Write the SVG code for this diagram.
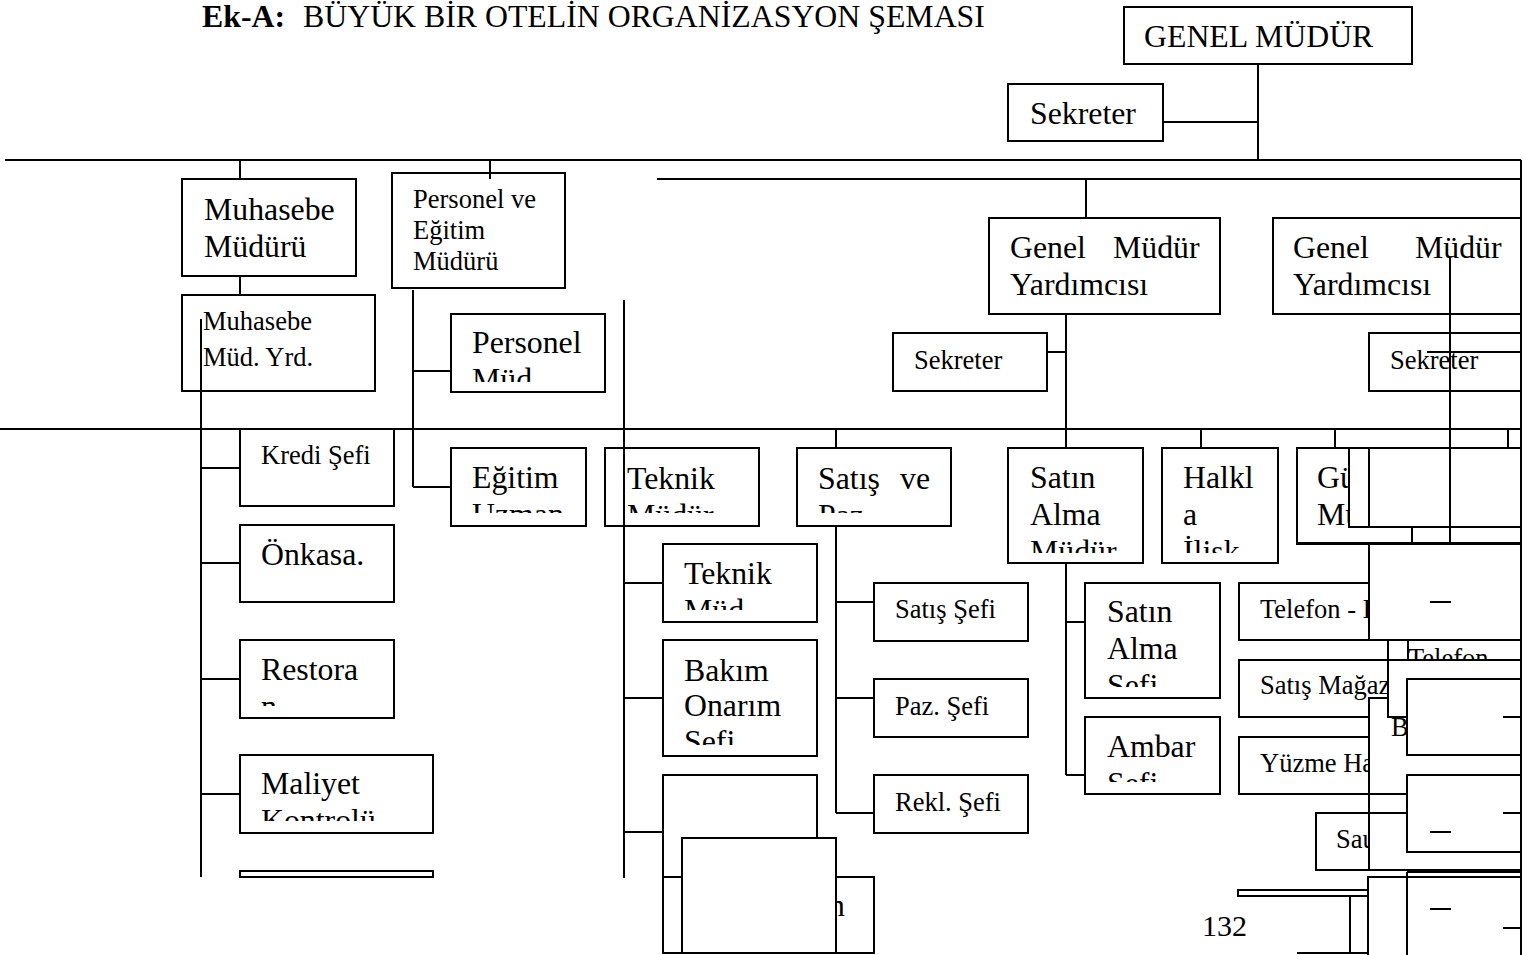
<svg xmlns="http://www.w3.org/2000/svg" width="1523" height="955" viewBox="0 0 1523 955">
<style>
.bx{fill:#fff;stroke:#000;stroke-width:2}
.ln{stroke:#000;stroke-width:2;fill:none}
.t{font-family:"Liberation Serif","Times New Roman",serif;font-size:31.8px;fill:#000}
.s{font-family:"Liberation Serif","Times New Roman",serif;font-size:26.5px;fill:#000}
</style>
<defs>
<clipPath id="cPM"><rect x="452" y="315" width="152" height="67"/></clipPath>
<clipPath id="cEU"><rect x="452" y="449" width="133" height="64"/></clipPath>
<clipPath id="cTM"><rect x="606" y="449" width="152" height="64"/></clipPath>
<clipPath id="cSP"><rect x="798" y="449" width="152" height="64"/></clipPath>
<clipPath id="cSA"><rect x="1009" y="449" width="133" height="104"/></clipPath>
<clipPath id="cHI"><rect x="1163" y="449" width="114" height="104"/></clipPath>
<clipPath id="cTMd"><rect x="664" y="545" width="152" height="65"/></clipPath>
<clipPath id="cBO"><rect x="664" y="641" width="152" height="104"/></clipPath>
<clipPath id="cRE"><rect x="241" y="641" width="152" height="65"/></clipPath>
<clipPath id="cMK"><rect x="241" y="756" width="191" height="65"/></clipPath>
<clipPath id="cSAS"><rect x="1086" y="584" width="133" height="103"/></clipPath>
<clipPath id="cAS"><rect x="1086" y="718" width="133" height="64"/></clipPath>
<clipPath id="cTel"><rect x="1390" y="641" width="130" height="18"/></clipPath>
</defs>

<g id="title">
<text x="202" y="27" class="t" font-weight="bold">Ek-A:</text>
<text x="303" y="27" class="t">BÜYÜK BİR OTELİN ORGANİZASYON ŞEMASI</text>
</g>

<g id="n-genel-mudur"><rect class="bx" x="1124" y="7" width="288" height="57"/><text class="t" x="1144" y="47">GENEL MÜDÜR</text></g>
<g id="n-sekreter"><rect class="bx" x="1008" y="84" width="155" height="57"/><text class="t" x="1030" y="124">Sekreter</text></g>
<g id="n-muhasebe-mudur"><rect class="bx" x="182" y="179" width="174" height="97"/><text class="t" x="204" y="220">Muhasebe</text><text class="t" x="204" y="257">Müdürü</text></g>
<g id="n-personel-egitim"><rect class="bx" x="392" y="173" width="173" height="115"/><text class="s" x="413" y="208">Personel ve</text><text class="s" x="413" y="239">Eğitim</text><text class="s" x="413" y="270">Müdürü</text></g>
<g id="n-muhasebe-yrd"><rect class="bx" x="182" y="295" width="193" height="96"/><text class="s" x="203" y="330">Muhasebe</text><text class="s" x="203" y="366">Müd. Yrd.</text></g>
<g id="n-personel-mud"><rect class="bx" x="451" y="314" width="154" height="78"/><g clip-path="url(#cPM)"><text class="t" x="472" y="353">Personel</text><text class="t" x="472" y="390">Müd.</text></g></g>
<g id="n-gmy1"><rect class="bx" x="989" y="218" width="231" height="96"/><text class="t" x="1010" y="258">Genel</text><text class="t" x="1113" y="258">Müdür</text><text class="t" x="1010" y="295">Yardımcısı</text></g>
<g id="n-gmy2"><rect class="bx" x="1273" y="218" width="248" height="96"/><text class="t" x="1293" y="258">Genel</text><text class="t" x="1415" y="258">Müdür</text><text class="t" x="1293" y="295">Yardımcısı</text></g>
<g id="n-sekreter1"><rect class="bx" x="893" y="333" width="154" height="58"/><text class="s" x="914" y="369">Sekreter</text></g>
<g id="n-sekreter2"><rect class="bx" x="1369" y="333" width="152" height="58"/><text class="s" x="1390" y="369">Sekreter</text><line class="ln" x1="1427" y1="352" x2="1521" y2="352"/></g>
<g id="n-kredi"><rect class="bx" x="240" y="429" width="154" height="77"/><text class="s" x="261" y="464">Kredi Şefi</text></g>
<g id="n-egitim-uzman"><rect class="bx" x="451" y="448" width="135" height="78"/><g clip-path="url(#cEU)"><text class="t" x="472" y="488">Eğitim</text><text class="t" x="472" y="525">Uzman</text></g></g>
<g id="n-teknik-mudur"><rect class="bx" x="605" y="448" width="154" height="78"/><g clip-path="url(#cTM)"><text class="t" x="627" y="489">Teknik</text><text class="t" x="627" y="526">Müdür</text></g></g>
<g id="n-satis-paz"><rect class="bx" x="797" y="448" width="154" height="78"/><g clip-path="url(#cSP)"><text class="t" x="818" y="489">Satış</text><text class="t" x="900" y="489">ve</text><text class="t" x="818" y="526">Paz.</text></g></g>
<g id="n-satin-alma-mudur"><rect class="bx" x="1008" y="448" width="135" height="115"/><g clip-path="url(#cSA)"><text class="t" x="1030" y="488">Satın</text><text class="t" x="1030" y="525">Alma</text><text class="t" x="1030" y="562">Müdür</text></g></g>
<g id="n-halkla"><rect class="bx" x="1162" y="448" width="116" height="115"/><g clip-path="url(#cHI)"><text class="t" x="1183" y="488">Halkl</text><text class="t" x="1183" y="525">a</text><text class="t" x="1183" y="562">İlişk</text></g></g>
<g id="n-gu"><rect class="bx" x="1297" y="448" width="224" height="96"/><text class="t" x="1317" y="488">Gü</text><text class="t" x="1317" y="525">Mü</text></g>
<g id="n-onkasa"><rect class="bx" x="240" y="525" width="154" height="77"/><text class="t" x="261" y="565">Önkasa.</text></g>
<g id="n-teknik-mud"><rect class="bx" x="663" y="544" width="154" height="78"/><g clip-path="url(#cTMd)"><text class="t" x="684" y="584">Teknik</text><text class="t" x="684" y="621">Müd.</text></g></g>
<g id="n-satis-sefi"><rect class="bx" x="874" y="583" width="154" height="58"/><text class="s" x="895" y="618">Satış Şefi</text></g>
<g id="n-satin-alma-sefi"><rect class="bx" x="1085" y="583" width="135" height="115"/><g clip-path="url(#cSAS)"><text class="t" x="1107" y="622">Satın</text><text class="t" x="1107" y="659">Alma</text><text class="t" x="1107" y="696">Şefi</text></g></g>
<g id="n-telefon"><rect class="bx" x="1239" y="583" width="140" height="57"/><text class="s" x="1260" y="618">Telefon - I</text></g>
<g id="n-restoran"><rect class="bx" x="240" y="640" width="154" height="78"/><g clip-path="url(#cRE)"><text class="t" x="261" y="680">Restora</text><text class="t" x="261" y="717">n</text></g></g>
<g id="n-bakim"><rect class="bx" x="663" y="640" width="154" height="116"/><g clip-path="url(#cBO)"><text class="t" x="684" y="681">Bakım</text><text class="t" x="684" y="716">Onarım</text><text class="t" x="684" y="752">Şefi</text></g></g>
<g id="n-paz-sefi"><rect class="bx" x="874" y="679" width="154" height="58"/><text class="s" x="895" y="715">Paz. Şefi</text></g>
<g id="n-magaza"><rect class="bx" x="1239" y="660" width="151" height="57"/><text class="s" x="1260" y="694">Satış Mağaz</text></g>
<g id="n-ambar"><rect class="bx" x="1085" y="717" width="135" height="77"/><g clip-path="url(#cAS)"><text class="t" x="1107" y="757">Ambar</text><text class="t" x="1107" y="794">Şefi</text></g></g>
<g id="n-yuzme"><rect class="bx" x="1239" y="737" width="140" height="57"/><text class="s" x="1260" y="772">Yüzme Ha</text></g>
<g id="n-maliyet"><rect class="bx" x="240" y="755" width="193" height="78"/><g clip-path="url(#cMK)"><text class="t" x="261" y="794">Maliyet</text><text class="t" x="261" y="831">Kontrolü</text></g></g>
<g id="n-rekl-sefi"><rect class="bx" x="874" y="775" width="154" height="58"/><text class="s" x="895" y="811">Rekl. Şefi</text></g>
<g id="n-bos"><rect class="bx" x="663" y="775" width="154" height="102"/></g>
<g id="n-sau"><rect class="bx" x="1316" y="813" width="64" height="57"/><text class="s" x="1336" y="848">Sau</text></g>
<g id="n-alt1"><rect class="bx" x="240" y="871" width="193" height="6"/></g>
<g id="n-alt2"><rect class="bx" x="663" y="877" width="211" height="76"/><text class="t" x="829" y="916">n</text></g>
<g id="n-ortu"><rect class="bx" x="682" y="838" width="154" height="115"/></g>
<g id="n-alt3"><rect class="bx" x="1238" y="890" width="130" height="6"/><line class="ln" x1="1350" y1="896" x2="1350" y2="953"/><line class="ln" x1="1297" y1="953" x2="1521" y2="953"/></g>
<g id="page"><text class="t" x="1202" y="936" style="font-size:30px">132</text></g>

<g id="n-sag-kume">
<rect class="bx" x="1349" y="448" width="172" height="79"/>
<rect class="bx" x="1369" y="448" width="152" height="79"/>
<line class="ln" x1="1297" y1="543" x2="1521" y2="543"/>
<line class="ln" x1="1412" y1="527" x2="1412" y2="543"/>
<rect class="bx" x="1369" y="544" width="152" height="96"/>
<line class="ln" x1="1430" y1="602" x2="1451" y2="602"/>
<rect class="bx" x="1369" y="698" width="152" height="172"/>
<rect class="bx" x="1388" y="640" width="133" height="77"/>
<g clip-path="url(#cTel)"><text class="s" x="1408" y="667">Telefon</text></g>
<line class="ln" x1="1388" y1="660" x2="1521" y2="660"/>
<line class="ln" x1="1408" y1="640" x2="1408" y2="660"/>
<rect class="bx" x="1407" y="679" width="114" height="76"/>
<line class="ln" x1="1503" y1="717" x2="1521" y2="717"/>
<text class="s" x="1391" y="736">B</text>
<line class="ln" x1="1369" y1="794" x2="1407" y2="794"/>
<line class="ln" x1="1316" y1="813" x2="1407" y2="813"/>
<rect class="bx" x="1407" y="775" width="114" height="77"/>
<line class="ln" x1="1430" y1="832" x2="1451" y2="832"/>
<line class="ln" x1="1503" y1="813" x2="1521" y2="813"/>
<line class="ln" x1="1316" y1="870" x2="1521" y2="870"/>
<rect class="bx" x="1368" y="877" width="153" height="82"/>
<line class="ln" x1="1407" y1="872" x2="1521" y2="872"/>
<line class="ln" x1="1407" y1="872" x2="1407" y2="955"/>
<line class="ln" x1="1430" y1="909" x2="1451" y2="909"/>
<line class="ln" x1="1503" y1="928" x2="1521" y2="928"/>
</g>

<g id="connectors" class="ln">
<line x1="1258" y1="64" x2="1258" y2="160"/>
<line x1="1163" y1="122" x2="1258" y2="122"/>
<line x1="5" y1="160" x2="1521" y2="160"/>
<line x1="1521" y1="160" x2="1521" y2="955"/>
<line x1="657" y1="179" x2="1521" y2="179"/>
<line x1="240" y1="160" x2="240" y2="179"/>
<line x1="490" y1="160" x2="490" y2="179"/>
<line x1="1086" y1="179" x2="1086" y2="218"/>
<line x1="240" y1="276" x2="240" y2="295"/>
<line x1="201" y1="319" x2="201" y2="877"/>
<line x1="201" y1="468" x2="240" y2="468"/>
<line x1="201" y1="563" x2="240" y2="563"/>
<line x1="201" y1="679" x2="240" y2="679"/>
<line x1="201" y1="794" x2="240" y2="794"/>
<line x1="413" y1="290" x2="413" y2="487"/>
<line x1="413" y1="371" x2="451" y2="371"/>
<line x1="413" y1="487" x2="451" y2="487"/>
<line x1="624" y1="300" x2="624" y2="878"/>
<line x1="624" y1="583" x2="663" y2="583"/>
<line x1="624" y1="698" x2="663" y2="698"/>
<line x1="624" y1="832" x2="663" y2="832"/>
<line x1="0" y1="429" x2="1521" y2="429"/>
<line x1="836" y1="429" x2="836" y2="448"/>
<line x1="836" y1="526" x2="836" y2="813"/>
<line x1="836" y1="602" x2="874" y2="602"/>
<line x1="836" y1="698" x2="874" y2="698"/>
<line x1="836" y1="813" x2="874" y2="813"/>
<line x1="1066" y1="314" x2="1066" y2="448"/>
<line x1="1047" y1="352" x2="1066" y2="352"/>
<line x1="1066" y1="563" x2="1066" y2="775"/>
<line x1="1066" y1="622" x2="1085" y2="622"/>
<line x1="1066" y1="775" x2="1085" y2="775"/>
<line x1="1201" y1="429" x2="1201" y2="448"/>
<line x1="1335" y1="429" x2="1335" y2="448"/>
<line x1="1508" y1="429" x2="1508" y2="448"/>
<line x1="1450" y1="257" x2="1450" y2="543"/>
</g>
</svg>
